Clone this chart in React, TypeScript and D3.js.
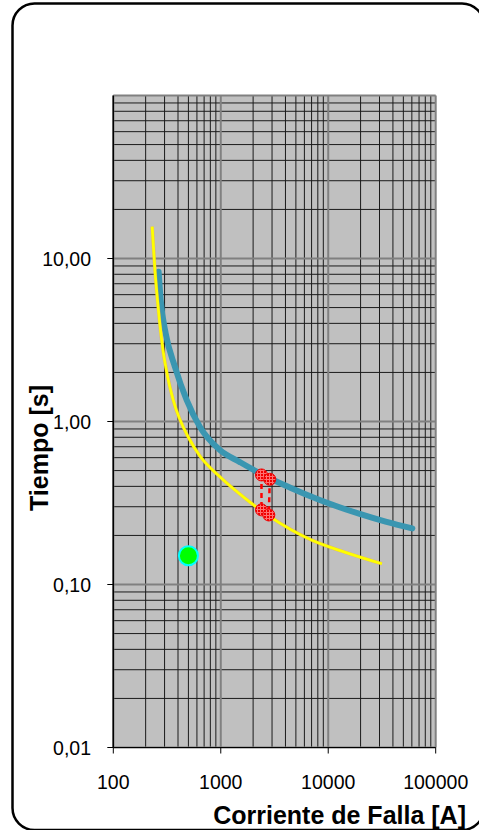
import React from 'react';
import * as d3 from 'd3';

// Datos (corriente [A], tiempo [s])
const curvaAzul: [number, number][] = [
  [264, 8.3], [276, 5.56], [307, 3.48], [374, 2.17], [481, 1.355], [640, 0.925],
  [981, 0.668], [1505, 0.564], [2308, 0.481], [4385, 0.394], [8337, 0.33],
  [19630, 0.271], [34200, 0.243], [60600, 0.221],
];
const curvaAmarilla: [number, number][] = [
  [230, 15.7], [244, 8.5], [263, 4.83], [290, 2.75], [322, 1.85], [361, 1.355],
  [516, 0.77], [640, 0.614], [981, 0.458], [1675, 0.339], [2858, 0.261],
  [6980, 0.1875], [14220, 0.158], [31600, 0.134],
];
const marcasRojas: [number, number][][] = [
  [[2393, 0.47], [2393, 0.287]],
  [[2858, 0.442], [2800, 0.267]],
];
const puntoVerde: [number, number] = [500, 0.15];

const xTicks = [100, 1000, 10000, 100000];
const xTickLabels = ['100', '1000', '10000', '100000'];
const yTicks = [0.01, 0.1, 1, 10];
const yTickLabels = ['0,01', '0,10', '1,00', '10,00'];

const W = 479;
const H = 830;
const left = 113.3, right = 435.7, top = 95.5, bottom = 747.5;
const font = '"Liberation Sans", Arial, sans-serif';

const App = () => {
  const x = d3.scaleLog().domain([100, 100000]).range([left, right]);
  const y = d3.scaleLog().domain([0.01, 100]).range([bottom, top]);

  const line = d3.line<[number, number]>()
    .x(d => x(d[0]))
    .y(d => y(d[1]))
    .curve(d3.curveMonotoneX);

  const isMajor = (v: number) => Math.abs(Math.log10(v) - Math.round(Math.log10(v))) < 1e-9;
  const xGrid = x.ticks();
  const yGrid = y.ticks();

  return (
    <svg width={W} height={H} style={{ position: 'absolute', left: 0, top: 0 }}>
      <defs>
        <pattern id="rojo" width="3" height="3" patternUnits="userSpaceOnUse">
          <rect width="3" height="3" fill="#ff7070" />
          <rect width="2" height="2" fill="#f00000" />
        </pattern>
      </defs>
      <rect x={0} y={0} width={W} height={H} fill="#fff" />
      <rect x={12.5} y={3.5} width={471.5} height={826.5} rx={22} fill="none" stroke="#000" strokeWidth={2.5} />

      {/* área de trazado */}
      <rect x={left} y={top} width={right - left} height={bottom - top} fill="#c0c0c0" />

      {/* rejilla secundaria */}
      {xGrid.filter(v => !isMajor(v)).map((v, i) => (
        <line key={'xm' + i} x1={x(v)} x2={x(v)} y1={top} y2={bottom} stroke="#1a1a1a" strokeWidth={1} />
      ))}
      {yGrid.filter(v => !isMajor(v)).map((v, i) => (
        <line key={'ym' + i} x1={left} x2={right} y1={y(v)} y2={y(v)} stroke="#1a1a1a" strokeWidth={1} />
      ))}
      {/* rejilla principal */}
      {xGrid.filter(v => isMajor(v)).map((v, i) => (
        <line key={'xM' + i} x1={x(v)} x2={x(v)} y1={top} y2={bottom} stroke="#808080" strokeWidth={2} />
      ))}
      {yGrid.filter(v => isMajor(v)).map((v, i) => (
        <line key={'yM' + i} x1={left} x2={right} y1={y(v)} y2={y(v)} stroke="#808080" strokeWidth={2} />
      ))}

      {/* ejes */}
      <line x1={left} x2={left} y1={top} y2={bottom} stroke="#000" strokeWidth={1.5} />
      <line x1={left} x2={right} y1={bottom} y2={bottom} stroke="#000" strokeWidth={1} />
      {xTicks.map((v, i) => (
        <g key={'xt' + i}>
          <line x1={x(v)} x2={x(v)} y1={bottom} y2={bottom + 6} stroke="#000" strokeWidth={1} />
          <text x={x(v)} y={789} textAnchor="middle" fontFamily={font} fontSize={19.5} fill="#000">{xTickLabels[i]}</text>
        </g>
      ))}
      {yTicks.map((v, i) => (
        <g key={'yt' + i}>
          <line x1={left - 6} x2={left} y1={y(v)} y2={y(v)} stroke="#000" strokeWidth={1} />
          <text x={91} y={y(v)} dy="0.36em" textAnchor="end" fontFamily={font} fontSize={19.5} fill="#000">{yTickLabels[i]}</text>
        </g>
      ))}

      {/* curvas */}
      <path d={line(curvaAzul) || ''} fill="none" stroke="#3a96b1" strokeWidth={6} strokeLinecap="round" />
      <path d={line(curvaAmarilla) || ''} fill="none" stroke="#f0a040" strokeWidth={3.6} opacity={0.5} />
      <path d={line(curvaAmarilla) || ''} fill="none" stroke="#ffff00" strokeWidth={2.8} />

      {/* marcas rojas */}
      {marcasRojas.map((s, i) => (
        <g key={'r' + i}>
          <line x1={x(s[0][0])} x2={x(s[1][0])} y1={y(s[0][1])} y2={y(s[1][1])} stroke="#ff0000" strokeWidth={2.5} strokeDasharray="5,4" />
          {s.map((p, j) => (
            <circle key={j} cx={x(p[0])} cy={y(p[1])} r={6} fill="url(#rojo)" stroke="#f00000" strokeWidth={1} />
          ))}
        </g>
      ))}

      <circle cx={x(puntoVerde[0])} cy={y(puntoVerde[1])} r={9.5} fill="#00ff00" stroke="#00ffff" strokeWidth={2} />

      {/* títulos */}
      <text x={466} y={824} textAnchor="end" fontFamily={font} fontSize={25} fontWeight="bold" fill="#000">Corriente de Falla [A]</text>
      <text transform="translate(48,448) rotate(-90)" textAnchor="middle" fontFamily={font} fontSize={25} fontWeight="bold" fill="#000">Tiempo [s]</text>
    </svg>
  );
};

export default App;
